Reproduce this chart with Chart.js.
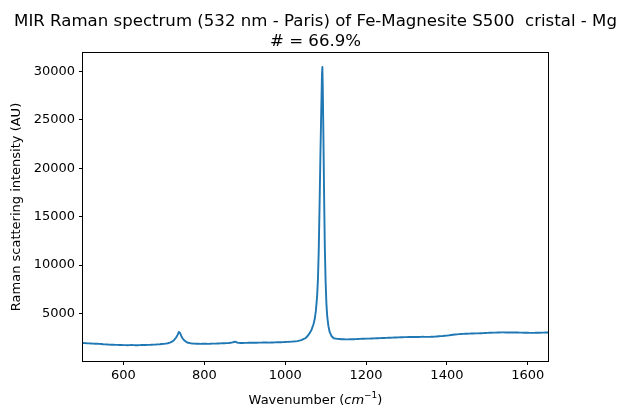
<!DOCTYPE html>
<html>
<head>
<meta charset="utf-8">
<script src="https://cdn.jsdelivr.net/npm/chart.js@4.4.0/dist/chart.umd.min.js"></script>
<style>
  html, body { margin: 0; padding: 0; background: #fff; }
  #wrap { width: 627px; height: 420px; }
</style>
</head>
<body>
<div id="wrap"><canvas id="spectrum" width="627" height="420"></canvas></div>
<script>
// spectrum
const wavenumber = [
  500, 510, 520, 530, 540, 550, 560, 570, 580, 590,
  600, 610, 620, 630, 640, 650, 660, 670, 680, 690,
  700, 710, 715, 720, 725, 730, 734, 737, 740, 743,
  746, 750, 755, 760, 770, 780, 790, 800, 810, 820,
  830, 840, 850, 860, 870, 876, 882, 890, 900, 910,
  920, 930, 940, 950, 960, 970, 980, 990, 1000, 1010,
  1020, 1030, 1040, 1050, 1055, 1060, 1065, 1070, 1073, 1076,
  1079, 1081, 1083, 1085, 1087, 1089, 1090, 1091, 1092, 1093,
  1094, 1095, 1096, 1097, 1098, 1100, 1102, 1104, 1107, 1110,
  1115, 1120, 1130, 1140, 1150, 1160, 1170, 1180, 1190, 1200,
  1210, 1220, 1230, 1240, 1250, 1260, 1270, 1280, 1290, 1300,
  1310, 1320, 1330, 1340, 1350, 1360, 1370, 1380, 1390, 1400,
  1410, 1420, 1430, 1440, 1450, 1460, 1470, 1480, 1490, 1500,
  1510, 1520, 1530, 1540, 1550, 1560, 1570, 1580, 1590, 1600,
  1610, 1620, 1630, 1640, 1650
];
const intensity = [
  1960, 1930, 1910, 1880, 1870, 1830, 1810, 1780, 1770, 1750,
  1740, 1730, 1750, 1720, 1740, 1750, 1760, 1780, 1800, 1830,
  1870, 1930, 2000, 2100, 2250, 2500, 2800, 3100, 3000, 2700,
  2450, 2250, 2080, 1980, 1900, 1880, 1870, 1880, 1870, 1890,
  1900, 1920, 1940, 1950, 2020, 2100, 1990, 1960, 1970, 1980,
  1990, 1990, 2000, 2010, 2000, 2010, 2030, 2040, 2060, 2080,
  2110, 2150, 2250, 2450, 2650, 2950, 3300, 3900, 4400, 5300,
  6800, 8500, 11500, 16000, 21000, 25500, 27500, 29700, 30450, 28300,
  25200, 21800, 18200, 15000, 12000, 8300, 6000, 4700, 3700, 3100,
  2650, 2450, 2380, 2350, 2330, 2340, 2350, 2370, 2390, 2410,
  2420, 2440, 2450, 2470, 2490, 2500, 2520, 2540, 2550, 2570,
  2580, 2590, 2580, 2600, 2590, 2600, 2620, 2650, 2680, 2720,
  2780, 2830, 2870, 2900, 2920, 2940, 2950, 2960, 2980, 3000,
  3020, 3030, 3050, 3060, 3040, 3050, 3040, 3030, 3020, 3010,
  3000, 3010, 3020, 3030, 3040
];
const xTicks = [600, 800, 1000, 1200, 1400, 1600];
const yTicks = [5000, 10000, 15000, 20000, 25000, 30000];

const titleLines = [
  'MIR Raman spectrum (532 nm - Paris) of Fe-Magnesite S500  cristal - Mg',
  '# = 66.9%'
];
const yLabel = 'Raman scattering intensity (AU)';

const FONT = '"DejaVu Sans", sans-serif';

// frame, titles and axis labels drawn the matplotlib way
const decorations = {
  id: 'decorations',
  afterDraw(chart) {
    const { ctx, chartArea: a } = chart;
    ctx.save();
    ctx.strokeStyle = '#000';
    ctx.lineWidth = 1;
    ctx.strokeRect(Math.round(a.left) - 0.5, Math.round(a.top) - 0.5,
      Math.round(a.right - a.left) + 1, Math.round(a.bottom - a.top) + 1);

    const cx = (a.left + a.right) / 2;
    ctx.fillStyle = '#000';
    ctx.textAlign = 'center';
    ctx.textBaseline = 'alphabetic';
    ctx.font = '16.6px ' + FONT;
    ctx.fillText(titleLines[0], cx, 26);
    ctx.fillText(titleLines[1], cx, 46);

    // x label with math part
    ctx.font = '13px ' + FONT;
    const p1 = 'Wavenumber (';
    const p2 = 'cm';
    const p3 = '\u22121';
    const p4 = ')';
    const w1 = ctx.measureText(p1).width;
    ctx.font = 'italic 13px ' + FONT;
    const w2 = ctx.measureText(p2).width;
    ctx.font = '9px ' + FONT;
    const w3 = ctx.measureText(p3).width;
    ctx.font = '13px ' + FONT;
    const w4 = ctx.measureText(p4).width;
    let x = cx - (w1 + w2 + w3 + w4) / 2;
    const by = 404;
    ctx.textAlign = 'left';
    ctx.fillText(p1, x, by); x += w1;
    ctx.font = 'italic 13px ' + FONT;
    ctx.fillText(p2, x, by); x += w2;
    ctx.font = '9px ' + FONT;
    ctx.fillText(p3, x, by - 6); x += w3;
    ctx.font = '13px ' + FONT;
    ctx.fillText(p4, x, by);

    // y label
    ctx.translate(20, (a.top + a.bottom) / 2);
    ctx.rotate(-Math.PI / 2);
    ctx.textAlign = 'center';
    ctx.fillText(yLabel, 0, 0);
    ctx.restore();
  }
};

const ctx = document.getElementById('spectrum').getContext('2d');
new Chart(ctx, {
  type: 'line',
  data: {
    datasets: [{
      data: wavenumber.map((w, i) => ({ x: w, y: intensity[i] })),
      borderColor: '#1f77b4',
      borderWidth: 1.9,
      borderJoinStyle: 'round',
      borderCapStyle: 'round',
      pointRadius: 0,
      tension: 0.0001, // keeps Chart.js off its per-pixel fast path
      fill: false
    }]
  },
  options: {
    responsive: false,
    animation: false,
    events: [],
    layout: { padding: { top: 53, right: 79, left: 0, bottom: 0 } },
    plugins: { legend: { display: false }, tooltip: { enabled: false }, title: { display: false } },
    scales: {
      x: {
        type: 'linear',
        min: 500,
        max: 1650,
        afterBuildTicks: s => { s.ticks = xTicks.map(v => ({ value: v })); },
        afterFit: s => { s.height = 59; },
        border: { display: false },
        grid: { drawOnChartArea: false, drawTicks: true, tickLength: 4, tickColor: '#000', tickWidth: 1 },
        ticks: { color: '#000', font: { family: FONT, size: 13 }, padding: 3, maxRotation: 0, autoSkip: false,
                 callback: v => String(v) }
      },
      y: {
        type: 'linear',
        min: 100,
        max: 31900,
        afterBuildTicks: s => { s.ticks = yTicks.map(v => ({ value: v })); },
        afterFit: s => { s.width = 83; },
        border: { display: false },
        grid: { drawOnChartArea: false, drawTicks: true, tickLength: 4, tickColor: '#000', tickWidth: 1 },
        ticks: { color: '#000', font: { family: FONT, size: 13 }, padding: 4, autoSkip: false,
                 callback: v => String(v) }
      }
    }
  },
  plugins: [decorations]
});
</script>
</body>
</html>
